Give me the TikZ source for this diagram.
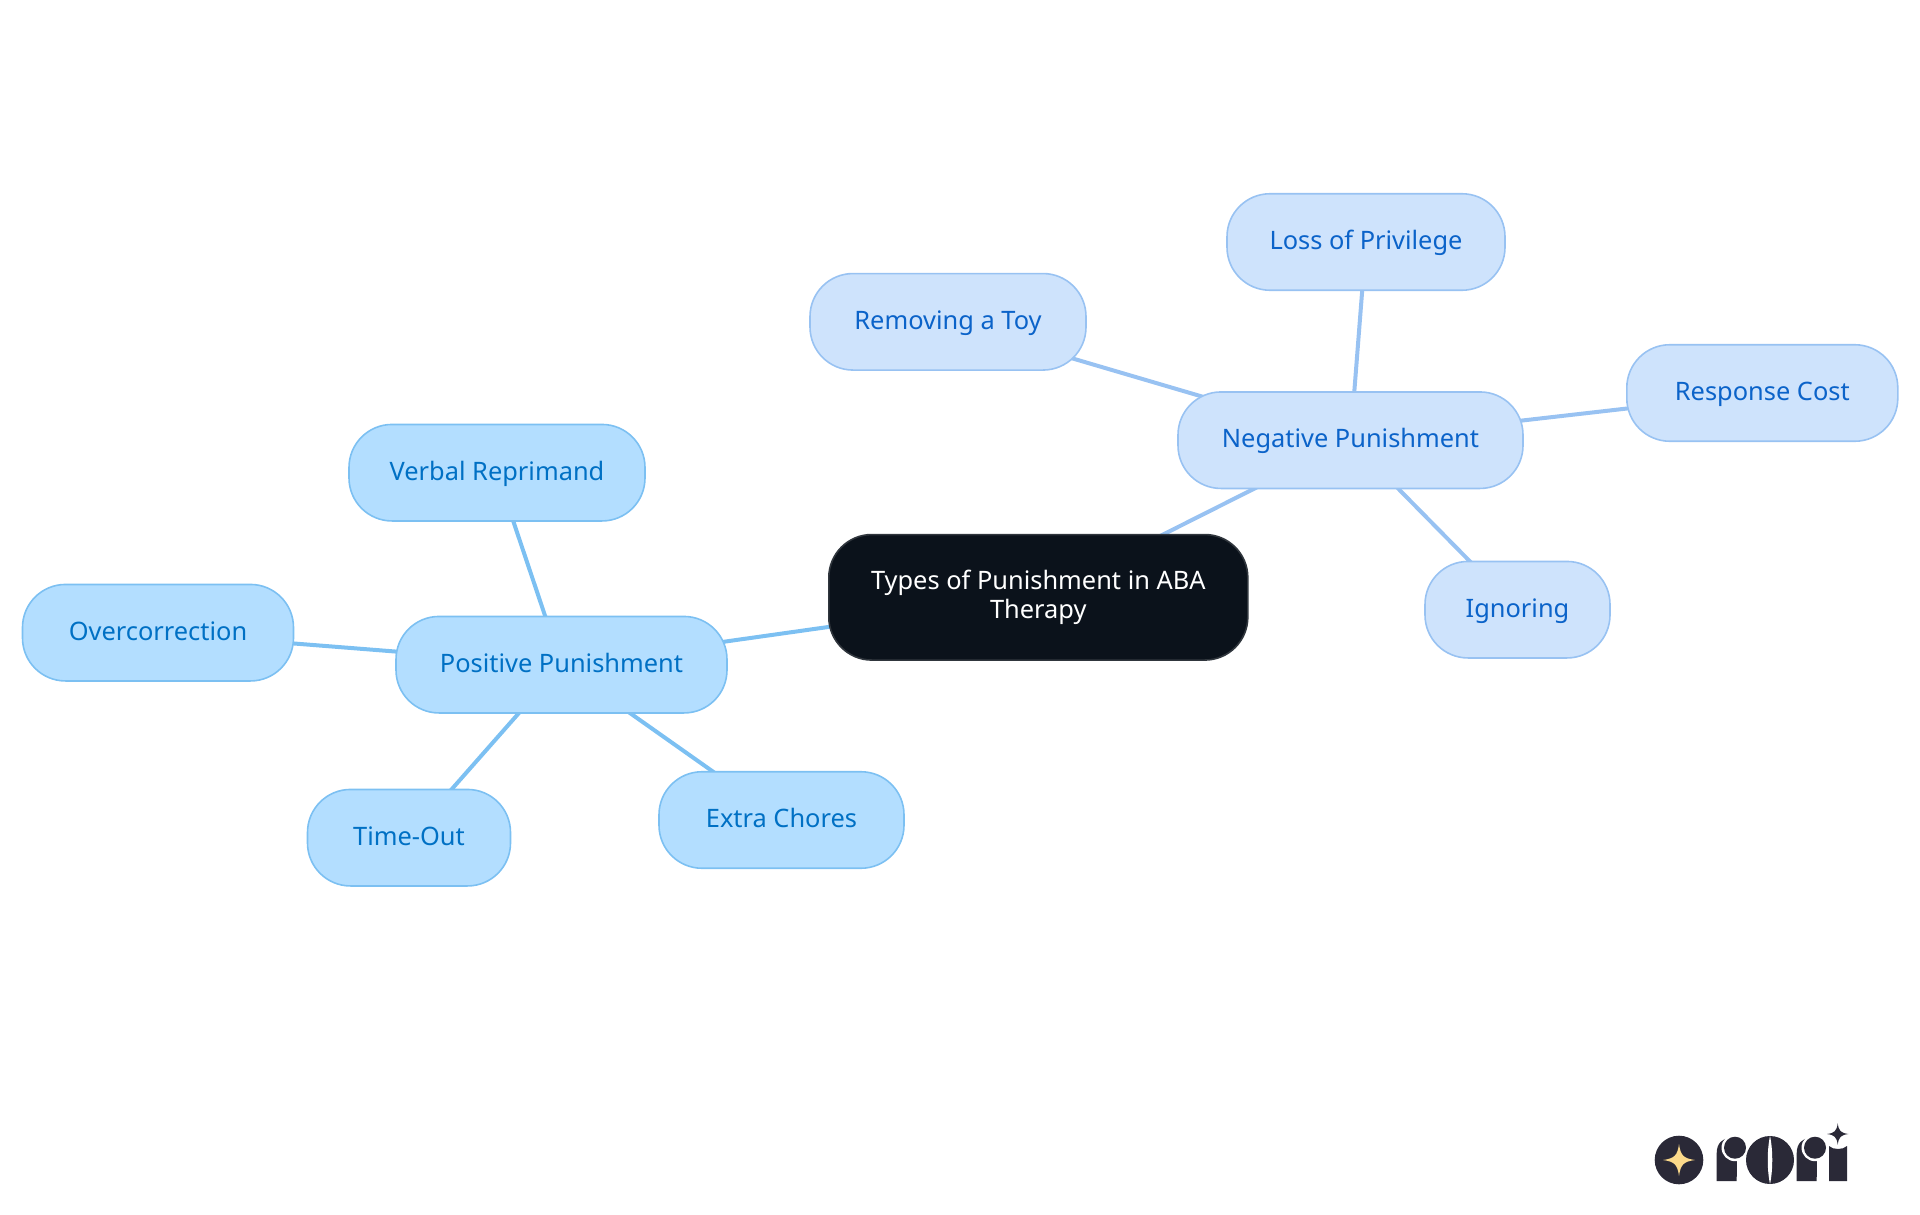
\documentclass[tikz,border=0pt]{standalone}
\usepackage{fontspec}
\setmainfont{Noto Sans}
\usetikzlibrary{backgrounds}
\definecolor{rootfill}{HTML}{0B121B}
\definecolor{rootline}{HTML}{30363D}
\definecolor{posfill}{HTML}{B3DEFF}
\definecolor{posline}{HTML}{7CC0F2}
\definecolor{postext}{HTML}{0070C4}
\definecolor{negfill}{HTML}{CEE3FC}
\definecolor{negline}{HTML}{98C2F2}
\definecolor{negtext}{HTML}{0B63C9}
\definecolor{logodark}{HTML}{2A2937}
\definecolor{logostar}{HTML}{FBD98A}
\tikzset{
  base/.style={rounded corners=43pt,inner sep=0pt,line width=1.6pt,align=center,
    font=\fontsize{25.4}{29.4}\selectfont},
  leaf/.style={base,minimum height=96.5pt,text height=20pt,text depth=5pt},
  rootnode/.style={base,draw=rootline,fill=rootfill,text=white},
  posnode/.style={leaf,draw=posline,fill=posfill,text=postext},
  negnode/.style={leaf,draw=negline,fill=negfill,text=negtext},
  posedge/.style={draw=posline,line width=4pt},
  negedge/.style={draw=negline,line width=4pt},
  sparkle/.pic={\fill[pic actions] (0,-1) .. controls (.1,-.28) and (.28,-.1) .. (1,0)
    .. controls (.28,.1) and (.1,.28) .. (0,1) .. controls (-.1,.28) and (-.28,.1) .. (-1,0)
    .. controls (-.28,-.1) and (-.1,-.28) .. (0,-1) -- cycle;}
}
\begin{document}
\begin{tikzpicture}[x=1pt,y=-1pt]
\useasboundingbox (0,0) rectangle (1920,1215);
\node[rootnode,minimum width=419pt,minimum height=125.5pt] (root) at (1038.3,597.3) {\raisebox{-3.5pt}{Types of Punishment in ABA}\\[0.5pt]\raisebox{-3.5pt}{Therapy}};
\node[posnode,minimum width=331pt] (pos) at (561.5,664.7) {Positive Punishment};
\node[negnode,minimum width=345pt] (neg) at (1350.5,440.2) {Negative Punishment};
\node[posnode,minimum width=296pt] (verbal) at (497,472.7) {Verbal Reprimand};
\node[posnode,minimum width=271pt] (over) at (158,632.7) {Overcorrection};
\node[posnode,minimum width=203pt] (time) at (409,837.7) {Time-Out};
\node[posnode,minimum width=245pt] (chores) at (781.5,820) {Extra Chores};
\node[negnode,minimum width=276pt] (toy) at (948,321.8) {Removing a Toy};
\node[negnode,minimum width=278pt] (loss) at (1366,242) {Loss of Privilege};
\node[negnode,minimum width=271pt] (resp) at (1762.3,393) {Response Cost};
\node[negnode,minimum width=185pt] (ign) at (1517.5,609.7) {Ignoring};
\begin{scope}[on background layer]
\draw[posedge] (root.center) -- (pos.center);
\draw[negedge] (root.center) -- (neg.center);
\draw[posedge] (pos.center) -- (verbal.center);
\draw[posedge] (pos.center) -- (over.center);
\draw[posedge] (pos.center) -- (time.center);
\draw[posedge] (pos.center) -- (chores.center);
\draw[negedge] (neg.center) -- (toy.center);
\draw[negedge] (neg.center) -- (loss.center);
\draw[negedge] (neg.center) -- (resp.center);
\draw[negedge] (neg.center) -- (ign.center);
\end{scope}
% logo
\coordinate (s1) at (1679,1160);
\coordinate (s2) at (1837.7,1134);
\fill[logodark] (1679,1160) circle (24.3);
\pic[fill=logostar,x=16pt,y=16pt] at (s1) {sparkle};
% first r
\fill[logodark] (1716.7,1181) -- (1716.7,1153) .. controls (1716.7,1144) and (1722,1138) .. (1730,1138)
  -- (1737,1138) -- (1736.7,1181) -- cycle;
\fill[white] (1735,1147.7) circle (13.5);
\fill[logodark] (1735,1147.7) circle (11);
% o
\fill[logodark] (1770,1160) circle (24);
\fill[white] (1770,1136) .. controls (1767,1150) and (1767,1170) .. (1770,1184)
  .. controls (1773,1170) and (1773,1150) .. (1770,1136) -- cycle;
% second r
\fill[logodark] (1796.7,1181) -- (1796.7,1153) .. controls (1796.7,1144) and (1802,1138) .. (1810,1138)
  -- (1817,1138) -- (1816.7,1181) -- cycle;
\fill[white] (1815,1147.7) circle (13.5);
\fill[logodark] (1815,1147.7) circle (11);
% i
\fill[logodark] (1829,1181) -- (1829,1146) .. controls (1833,1150) and (1843,1150) .. (1847,1146) -- (1847,1181) -- cycle;
\pic[fill=logodark,x=10.7pt,y=10.7pt] at (s2) {sparkle};
\end{tikzpicture}
\end{document}
